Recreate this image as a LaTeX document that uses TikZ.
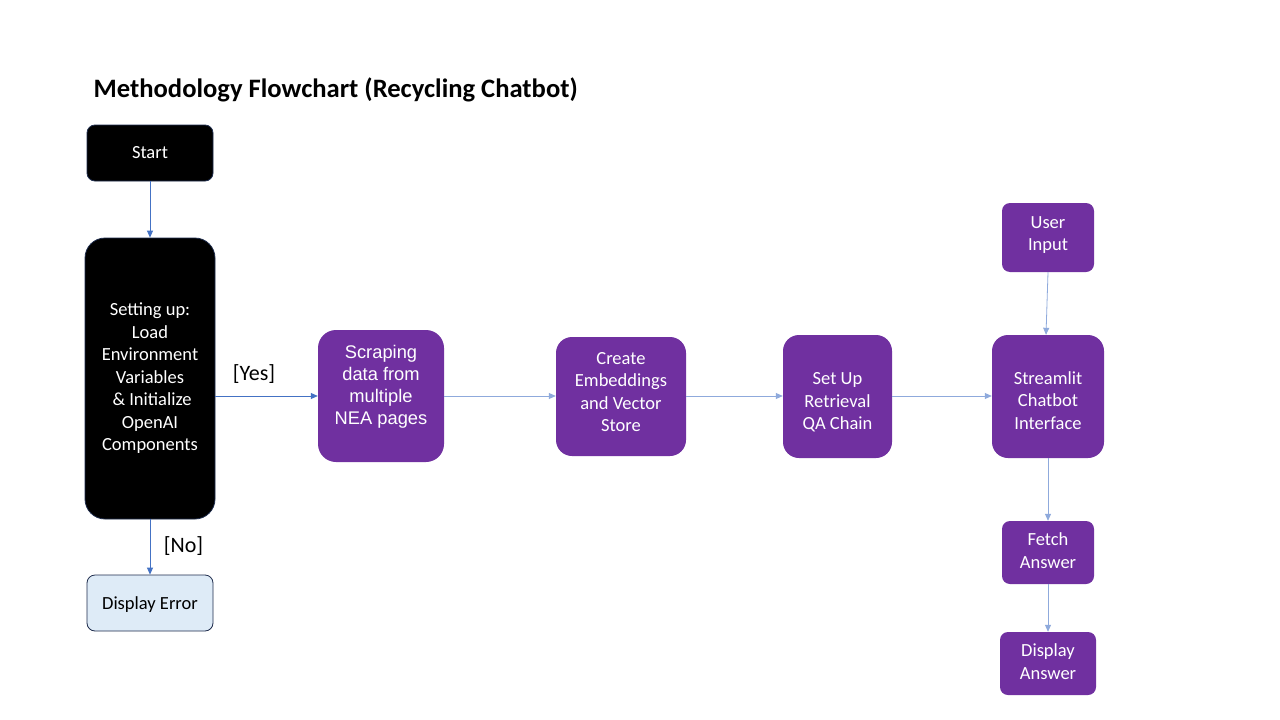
\documentclass[tikz,border=0pt]{standalone}
\usepackage{fontspec}
\setmainfont{Carlito}
\newfontfamily\arialf{Liberation Sans}
\usetikzlibrary{arrows.meta}
\definecolor{purp}{HTML}{7030A0}
\definecolor{navy}{HTML}{1F2D4D}
\definecolor{lblue}{HTML}{DEEBF7}
\definecolor{dblue}{HTML}{4472C4}
\definecolor{ablue}{HTML}{8FAADC}
\tikzset{
  txt/.style={align=center, inner sep=0pt, text=white, font=\fontsize{18.5}{22.5}\selectfont},
  base/.style={rounded corners=#1, align=center, inner sep=0pt, font=\fontsize{18.5}{22.5}\selectfont},
  blackbox/.style={base=#1, fill=black, draw=navy, line width=0.8pt, text=white},
  errbox/.style={base=8pt, fill=lblue, draw=navy, line width=0.8pt, text=black},
  purpbox/.style={base=#1, fill=purp, draw=none, text=white},
  darr/.style={draw=dblue, line width=0.8pt, -{Triangle[length=7pt,width=6pt]}},
  larr/.style={draw=ablue, line width=0.8pt, -{Triangle[length=7pt,width=6pt]}},
  lbl/.style={font=\fontsize{22}{26}\selectfont, text=black, inner sep=0pt},
}
\begin{document}
\begin{tikzpicture}[x=1pt,y=-1pt]
\useasboundingbox[fill=white] (0,0) rectangle (1280,720);
\node[anchor=west, inner sep=0pt, font=\fontsize{26.6}{30}\selectfont\bfseries] (title) at (93.5,89.5) {Methodology Flowchart (Recycling Chatbot)};
\node[blackbox=8pt, minimum width=126pt, minimum height=56pt] (start) at (150,153) {Start};
\node[blackbox=20pt, minimum width=130pt, minimum height=281pt] (setup) at (150,378.5) {Setting up:\\Load\\Environment\\Variables\\\ \& Initialize\\OpenAI\\Components};
\node[errbox, minimum width=126pt, minimum height=56pt,
  label={[txt, text=black, yshift=-2pt]center:{Display Error}}] (err) at (150,603) {};
\node[purpbox=18pt, minimum width=126pt, minimum height=132pt,
  label={[txt, font=\arialf\fontsize{18.3}{22}\selectfont, yshift=9pt]center:{Scraping\\data from\\multiple\\NEA pages}}] (scrape) at (381,396) {};
\node[purpbox=16pt, minimum width=130pt, minimum height=119pt,
  label={[txt, yshift=4.5pt]center:{Create\\Embeddings\\and Vector\\Store}}] (embed) at (621,396.5) {};
\node[purpbox=16pt, minimum width=109pt, minimum height=123pt,
  label={[txt, yshift=-6pt]center:{Set Up\\Retrieval\\QA Chain}}] (qa) at (837.5,396.5) {};
\node[purpbox=16pt, minimum width=112pt, minimum height=123pt,
  label={[txt, yshift=-4pt]center:{Streamlit\\Chatbot\\Interface}}] (ui) at (1048,396.5) {};
\node[purpbox=8pt, minimum width=92pt, minimum height=69pt,
  label={[txt, yshift=2.5pt]center:{User\\Input}}] (user) at (1048,237.5) {};
\node[purpbox=8pt, minimum width=92pt, minimum height=63pt,
  label={[txt, yshift=2pt]center:{Fetch\\Answer}}] (fetch) at (1048,552.5) {};
\node[purpbox=8pt, minimum width=96pt, minimum height=63pt,
  label={[txt, yshift=2pt]center:{Display\\Answer}}] (disp) at (1048,663.5) {};
\draw[darr] (start.south) -- (setup.north);
\draw[darr] (setup.east |- 0,396) -- (scrape.west |- 0,396);
\draw[darr] (setup.south) -- (err.north);
\node[lbl] (yes) at (254,374) {[Yes]};
\node[lbl] (no) at (183.5,546) {[No]};
\draw[larr] (scrape.east |- 0,396) -- (embed.west |- 0,396);
\draw[larr] (embed.east |- 0,396) -- (qa.west |- 0,396);
\draw[larr] (qa.east |- 0,396) -- (ui.west |- 0,396);
\draw[larr] (user.south) -- ([xshift=-2pt]ui.north);
\draw[larr] (ui.south) -- (fetch.north);
\draw[larr] (fetch.south) -- (disp.north);
\end{tikzpicture}
\end{document}
